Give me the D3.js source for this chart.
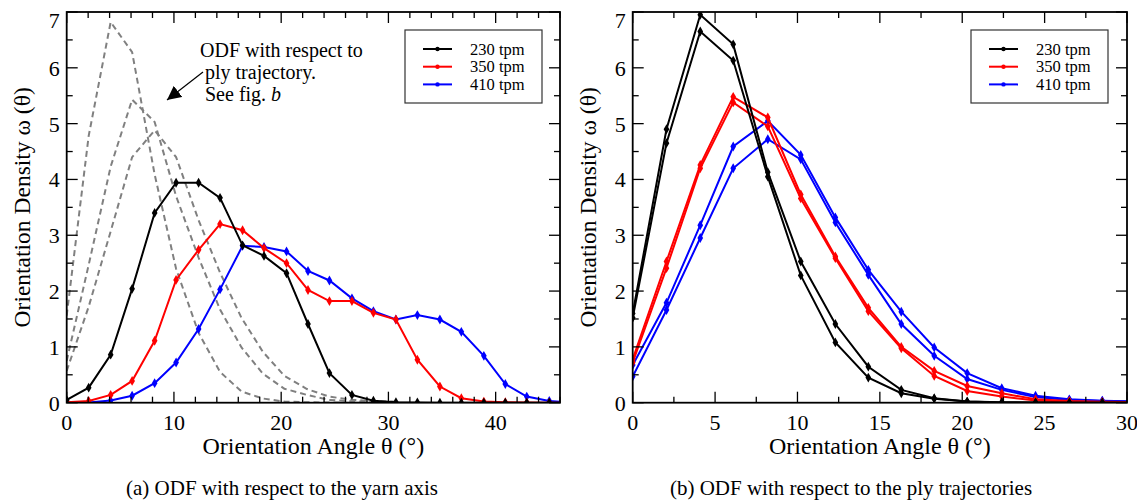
<!DOCTYPE html>
<html><head><meta charset="utf-8">
<script src="https://cdn.jsdelivr.net/npm/d3@7"></script>
<style>body{margin:0;background:#fff}svg{display:block}</style>
</head><body><svg id="c" width="1137" height="504" font-family="'Liberation Serif', 'Times New Roman', 'DejaVu Serif', serif"></svg>
<script>
// ---------- data ----------
const seriesNames = ["230 tpm", "350 tpm", "410 tpm"];
const seriesColors = ["#000000", "#ff0000", "#0000ff"];

// panel (a): angle sample positions (deg)
const anglesA = [0, 2.05, 4.1, 6.1, 8.2, 10.2, 12.3, 14.3, 16.4, 18.4, 20.5, 22.5, 24.5, 26.6, 28.6, 30.7, 32.7, 34.8, 36.8, 38.9, 40.9, 42.9, 45.0, 47.0];
const yarn230 = [0.05, 0.27, 0.86, 2.04, 3.40, 3.94, 3.94, 3.67, 2.82, 2.63, 2.32, 1.41, 0.53, 0.14, 0.035, 0.01, 0.005, 0, 0, 0, 0, 0, 0, 0];
const yarn350 = [0.01, 0.03, 0.14, 0.39, 1.11, 2.20, 2.74, 3.20, 3.09, 2.77, 2.50, 2.02, 1.82, 1.82, 1.61, 1.49, 0.77, 0.29, 0.08, 0.02, 0.01, 0.005, 0, 0];
const yarn410 = [0, 0.005, 0.04, 0.125, 0.35, 0.72, 1.32, 2.03, 2.81, 2.79, 2.71, 2.36, 2.19, 1.87, 1.64, 1.49, 1.57, 1.49, 1.27, 0.84, 0.335, 0.11, 0.03, 0.005];

// dashed reference curves in (a): ODF w.r.t. ply trajectory
const anglesRef = [0, 2.05, 4.1, 6.1, 8.2, 10.2, 12.3, 14.3, 16.3, 18.3, 20.3, 22.4, 24.45, 26.5, 28.5, 30.5];
const ref230 = [1.56, 4.78, 6.82, 6.28, 4.09, 2.40, 1.25, 0.55, 0.20, 0.075, 0.02, 0.008, 0.003, 0, 0, 0];
const ref350 = [0.75, 2.47, 4.23, 5.43, 5.03, 3.70, 2.60, 1.67, 0.99, 0.52, 0.25, 0.14, 0.05, 0.025, 0.012, 0.01];
const ref410 = [0.57, 1.72, 3.07, 4.40, 4.88, 4.40, 3.27, 2.33, 1.52, 0.91, 0.48, 0.245, 0.11, 0.055, 0.03, 0.02];

// panel (b): two measurements per twist level
const anglesB = [0, 2.05, 4.1, 6.1, 8.2, 10.2, 12.3, 14.3, 16.3, 18.3, 20.3, 22.4, 24.45, 26.5, 28.5, 30.5];
const ply230a = [1.60, 4.90, 6.95, 6.42, 4.13, 2.53, 1.41, 0.645, 0.23, 0.08, 0.02, 0.01, 0.004, 0, 0, 0];
const ply230b = [1.52, 4.65, 6.65, 6.13, 4.05, 2.28, 1.08, 0.45, 0.17, 0.07, 0.02, 0.005, 0.002, 0, 0, 0];
const ply350a = [0.78, 2.53, 4.26, 5.48, 5.11, 3.73, 2.62, 1.70, 1.00, 0.57, 0.30, 0.17, 0.06, 0.03, 0.015, 0.01];
const ply350b = [0.72, 2.41, 4.20, 5.38, 4.95, 3.66, 2.59, 1.64, 0.975, 0.48, 0.21, 0.11, 0.04, 0.02, 0.01, 0.008];
const ply410a = [0.675, 1.79, 3.18, 4.59, 5.05, 4.44, 3.32, 2.38, 1.63, 0.99, 0.53, 0.26, 0.125, 0.06, 0.035, 0.02];
const ply410b = [0.47, 1.66, 2.95, 4.20, 4.72, 4.36, 3.23, 2.29, 1.41, 0.84, 0.425, 0.23, 0.10, 0.05, 0.03, 0.02];

const yTicks = [0, 1, 2, 3, 4, 5, 6, 7];
const xTicksA = [0, 10, 20, 30, 40];
const xTicksB = [0, 5, 10, 15, 20, 25, 30];
const xLabel = "Orientation Angle θ (°)";
const yLabel = "Orientation Density ω (θ)";
const captionA = "(a) ODF with respect to the yarn axis";
const captionB = "(b) ODF with respect to the ply trajectories";
const noteLines = ["ODF with respect to", "ply trajectory.", "See fig. "];

// ---------- drawing ----------
const svg = d3.select("#c");
const Y0 = 402.7, Y1 = 12;

function panel(id, x0, x1, xmax, xMinorStep, yMinorStep, xTicks) {
  const x = d3.scaleLinear().domain([0, xmax]).range([x0, x1]);
  const y = d3.scaleLinear().domain([0, 7]).range([Y0, Y1]);
  const g = svg.append("g");
  g.append("clipPath").attr("id", id).append("rect")
    .attr("x", x0).attr("y", Y1).attr("width", x1 - x0).attr("height", Y0 - Y1);
  const plot = g.append("g").attr("clip-path", `url(#${id})`);
  const frame = g.append("g");
  const minorX = d3.range(0, xmax + 1e-9, xMinorStep);
  const minorY = d3.range(0, 7 + 1e-9, yMinorStep);
  const tk = frame.append("g").attr("stroke", "#000").attr("stroke-width", 1.3);
  minorX.forEach(v => {
    const maj = xTicks.includes(+v.toFixed(3));
    const L = maj ? 11 : 6;
    tk.append("line").attr("x1", x(v)).attr("x2", x(v)).attr("y1", Y0).attr("y2", Y0 - L);
    tk.append("line").attr("x1", x(v)).attr("x2", x(v)).attr("y1", Y1).attr("y2", Y1 + L);
  });
  minorY.forEach(v => {
    const maj = Math.abs(v - Math.round(v)) < 1e-6;
    const L = maj ? 11 : 6;
    tk.append("line").attr("x1", x0).attr("x2", x0 + L).attr("y1", y(v)).attr("y2", y(v));
    tk.append("line").attr("x1", x1).attr("x2", x1 - L).attr("y1", y(v)).attr("y2", y(v));
  });
  frame.append("rect").attr("x", x0).attr("y", Y1).attr("width", x1 - x0).attr("height", Y0 - Y1)
    .attr("fill", "none").attr("stroke", "#000").attr("stroke-width", 1.8);
  xTicks.forEach(v => frame.append("text").attr("x", x(v)).attr("y", 430)
    .attr("text-anchor", "middle").attr("font-size", 22).text(v));
  yTicks.forEach(v => frame.append("text").attr("x", x0 - 7).attr("y", Math.max(y(v) + 8, 28))
    .attr("text-anchor", "end").attr("font-size", 22).text(v));
  frame.append("text").attr("x", (x0 + x1) / 2).attr("y", 454).attr("text-anchor", "middle")
    .attr("font-size", 24).text(xLabel);
  frame.append("text").attr("transform", `translate(${x0 - 37},${(Y0 + Y1) / 2}) rotate(-90)`)
    .attr("text-anchor", "middle").attr("font-size", 23.5).text(yLabel);
  return {x, y, plot, g};
}

const diamond = d3.symbol().type(d3.symbolDiamond).size(28);

function series(p, xs, ys, color) {
  const pts = xs.map((v, i) => [v, ys[i]]);
  p.plot.append("path").datum(pts)
    .attr("d", d3.line().x(d => p.x(d[0])).y(d => p.y(d[1])))
    .attr("fill", "none").attr("stroke", color).attr("stroke-width", 2);
  p.plot.selectAll(null).data(pts).enter().append("path")
    .attr("d", diamond).attr("transform", d => `translate(${p.x(d[0])},${p.y(d[1])})`)
    .attr("fill", color);
}
function dashed(p, xs, ys) {
  const pts = xs.map((v, i) => [v, ys[i]]);
  p.plot.append("path").datum(pts)
    .attr("d", d3.line().x(d => p.x(d[0])).y(d => p.y(d[1])))
    .attr("fill", "none").attr("stroke", "#808080").attr("stroke-width", 2).attr("stroke-dasharray", "6,4");
}
function legend(x0, y0, w, h) {
  const g = svg.append("g");
  g.append("rect").attr("x", x0).attr("y", y0).attr("width", w).attr("height", h)
    .attr("fill", "#fff").attr("stroke", "#333").attr("stroke-width", 1.2);
  seriesNames.forEach((n, i) => {
    const yy = y0 + 19 + i * 17.7;
    g.append("line").attr("x1", x0 + 18).attr("x2", x0 + 47).attr("y1", yy).attr("y2", yy)
      .attr("stroke", seriesColors[i]).attr("stroke-width", 2);
    g.append("circle").attr("cx", x0 + 32.5).attr("cy", yy).attr("r", 2.2).attr("fill", seriesColors[i]);
    g.append("text").attr("x", x0 + 65).attr("y", yy + 5.5).attr("font-size", 16.5).text(n);
  });
}

// Panel (a)
const pA = panel("clipA", 66.7, 560, 46, 2, 0.5, xTicksA);
dashed(pA, anglesRef, ref230);
dashed(pA, anglesRef, ref350);
dashed(pA, anglesRef, ref410);
series(pA, anglesA, yarn410, seriesColors[2]);
series(pA, anglesA, yarn350, seriesColors[1]);
series(pA, anglesA, yarn230, seriesColors[0]);
legend(405, 30, 137, 73);

// annotation
const note = svg.append("g");
noteLines.forEach((t, i) => {
  const tx = note.append("text").attr("x", i === 0 ? 200 : 205).attr("y", 57 + i * 22).attr("font-size", 20).text(t);
  if (i === 2) tx.append("tspan").attr("font-style", "italic").text("b");
});
svg.append("defs").append("marker").attr("id", "ah").attr("viewBox", "0 0 10 10")
  .attr("refX", 10).attr("refY", 5).attr("markerWidth", 14).attr("markerHeight", 14)
  .attr("markerUnits", "userSpaceOnUse").attr("orient", "auto")
  .append("path").attr("d", "M0,0 L10,5 L0,10 z").attr("fill", "#000");
note.append("line").attr("x1", 203).attr("y1", 72).attr("x2", 167).attr("y2", 100)
  .attr("stroke", "#000").attr("stroke-width", 1.2).attr("marker-end", "url(#ah)");

// Panel (b)
const pB = panel("clipB", 632.7, 1127, 30, 2.5, 0.5, xTicksB);
series(pB, anglesB, ply410a, seriesColors[2]);
series(pB, anglesB, ply410b, seriesColors[2]);
series(pB, anglesB, ply350a, seriesColors[1]);
series(pB, anglesB, ply350b, seriesColors[1]);
series(pB, anglesB, ply230a, seriesColors[0]);
series(pB, anglesB, ply230b, seriesColors[0]);
legend(971, 30, 137, 73);

// captions
[[captionA, 282], [captionB, 851]].forEach(([t, cx]) => {
  svg.append("text").attr("x", cx).attr("y", 495)
    .attr("text-anchor", "middle").attr("font-size", 21).text(t);
});
</script></body></html>
